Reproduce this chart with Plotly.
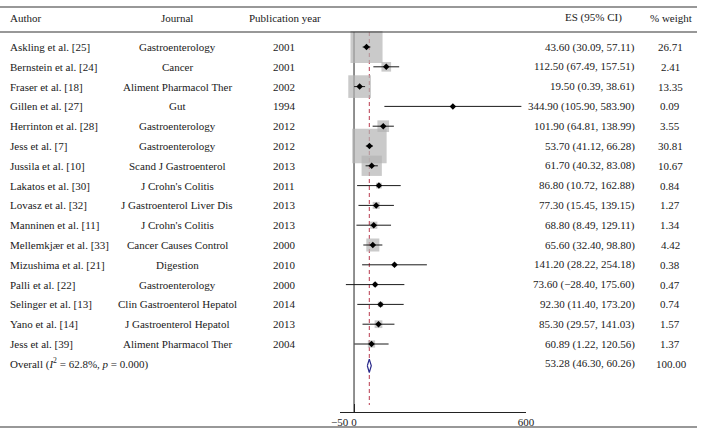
import plotly.graph_objects as go

authors = ["Askling et al. [25]", "Bernstein et al. [24]", "Fraser et al. [18]", "Gillen et al. [27]",
           "Herrinton et al. [28]", "Jess et al. [7]", "Jussila et al. [10]", "Lakatos et al. [30]",
           "Lovasz et al. [32]", "Manninen et al. [11]", "Mellemkjær et al. [33]", "Mizushima et al. [21]",
           "Palli et al. [22]", "Selinger et al. [13]", "Yano et al. [14]", "Jess et al. [39]"]
journals = ["Gastroenterology", "Cancer", "Aliment Pharmacol Ther", "Gut", "Gastroenterology",
            "Gastroenterology", "Scand J Gastroenterol", "J Crohn's Colitis", "J Gastroenterol Liver Dis",
            "J Crohn's Colitis", "Cancer Causes Control", "Digestion", "Gastroenterology",
            "Clin Gastroenterol Hepatol", "J Gastroenterol Hepatol", "Aliment Pharmacol Ther"]
years = [2001, 2001, 2002, 1994, 2012, 2012, 2013, 2011, 2013, 2013, 2000, 2010, 2000, 2014, 2013, 2004]
es = [43.60, 112.50, 19.50, 344.90, 101.90, 53.70, 61.70, 86.80, 77.30, 68.80, 65.60, 141.20, 73.60, 92.30, 85.30, 60.89]
lower = [30.09, 67.49, 0.39, 105.90, 64.81, 41.12, 40.32, 10.72, 15.45, 8.49, 32.40, 28.22, -28.40, 11.40, 29.57, 1.22]
upper = [57.11, 157.51, 38.61, 583.90, 138.99, 66.28, 83.08, 162.88, 139.15, 129.11, 98.80, 254.18, 175.60, 173.20, 141.03, 120.56]
weights = [26.71, 2.41, 13.35, 0.09, 3.55, 30.81, 10.67, 0.84, 1.27, 1.34, 4.42, 0.38, 0.47, 0.74, 1.57, 1.37]

overall_es, overall_lo, overall_hi, overall_w = 53.28, 46.30, 60.26, 100.00
overall_label = "Overall (<i>I</i><sup>2</sup> = 62.8%, <i>p</i> = 0.000)"
x_ticks = [-50, 0, 600]

W, H = 703, 435
FONT = "Liberation Serif"
n = len(authors)
rows = list(range(n))
ov_row = n

# pixel geometry
row0_px, row_step = 47, 19.8
top_px, axis_px = 32, 412
x_left_px, x_right_px = 339.7, 526.0

def row_of(px):
    return (px - row0_px) / row_step

fig = go.Figure()

# weight boxes
fig.add_trace(go.Scatter(
    x=es, y=rows, mode="markers",
    marker=dict(symbol="square", size=[6.2 * w ** 0.5 for w in weights], color="#b3b3b3", line=dict(width=0)),
    hoverinfo="skip", showlegend=False, cliponaxis=False))

# CI lines + point estimates
fig.add_trace(go.Scatter(
    x=es, y=rows, mode="markers",
    marker=dict(symbol="diamond", size=5, color="black"),
    error_x=dict(type="data", symmetric=False,
                 array=[u - e for u, e in zip(upper, es)],
                 arrayminus=[e - l for e, l in zip(es, lower)],
                 width=0, thickness=1, color="#1a1a1a"),
    hoverinfo="skip", showlegend=False, cliponaxis=False))

# overall diamond
h = 0.34
fig.add_trace(go.Scatter(
    x=[overall_lo, overall_es, overall_hi, overall_es, overall_lo],
    y=[ov_row + 0.1, ov_row + 0.1 - h, ov_row + 0.1, ov_row + 0.1 + h, ov_row + 0.1],
    mode="lines", fill="toself", fillcolor="white",
    line=dict(color="#2c2c8c", width=1.2),
    hoverinfo="skip", showlegend=False))

# null line and overall dashed line
fig.add_shape(type="line", xref="x", yref="y", x0=0, x1=0, y0=row_of(top_px), y1=row_of(axis_px),
              line=dict(color="#222222", width=1), layer="below")
fig.add_shape(type="line", xref="x", yref="y", x0=overall_es, x1=overall_es,
              y0=row_of(top_px), y1=row_of(405),
              line=dict(color="#b83a4e", width=1, dash="4px,3px"), layer="below")

# horizontal rules
for py in [7, 32, 427]:
    fig.add_shape(type="line", xref="paper", yref="paper", x0=0, x1=697 / W,
                  y0=1 - py / H, y1=1 - py / H, line=dict(color="#333333", width=1.2))

tf = dict(family=FONT, size=11, color="#1a1a1a")

def px_x(px):
    return px / W

# header
hdr_y = 1 - 18 / H
for text, px, anc in [("Author", 8, "left"), ("Journal", 177, "center"), ("Publication year", 285, "center"),
                      ("ES (95% CI)", 593, "center"), ("% weight", 671, "center")]:
    fig.add_annotation(text=text, x=px_x(px), y=hdr_y, xref="paper", yref="paper",
                       xanchor=anc, yanchor="middle", showarrow=False, font=tf)

def fmt(v):
    return f"{v:.2f}".replace("-", "\u2212")

for i in rows:
    for text, px, anc in [(authors[i], 8, "left"), (journals[i], 177, "center"), (str(years[i]), 284, "center"),
                          (f"{fmt(es[i])} ({fmt(lower[i])}, {fmt(upper[i])})", 637, "right"),
                          (f"{weights[i]:.2f}", 670, "center")]:
        fig.add_annotation(text=text, x=px_x(px), y=i, xref="paper", yref="y",
                           xanchor=anc, yanchor="middle", showarrow=False, font=tf)

for text, px, anc in [(overall_label, 8, "left"),
                      (f"{fmt(overall_es)} ({fmt(overall_lo)}, {fmt(overall_hi)})", 637, "right"),
                      (f"{overall_w:.2f}", 671, "center")]:
    fig.add_annotation(text=text, x=px_x(px), y=ov_row, xref="paper", yref="y",
                       xanchor=anc, yanchor="middle", showarrow=False, font=tf)

fig.update_layout(
    width=W, height=H, margin=dict(l=0, r=0, t=0, b=0, pad=0, autoexpand=False),
    paper_bgcolor="white", plot_bgcolor="rgba(0,0,0,0)",
    xaxis=dict(domain=[x_left_px / W, x_right_px / W], range=[-50, 600],
               tickvals=x_ticks, ticktext=["\u221250", "0", "600"],
               ticks="inside", ticklen=8, tickcolor="#222222", tickwidth=1,
               showline=True, linecolor="#222222", linewidth=1, showgrid=False, zeroline=False,
               automargin=False,
               tickfont=dict(family=FONT, size=11, color="#1a1a1a")),
    yaxis=dict(domain=[1 - axis_px / H, 1 - top_px / H],
               range=[row_of(axis_px), row_of(top_px)], automargin=False,
               visible=False, showgrid=False, zeroline=False),
)

fig.write_html("out.html", config={"responsive": False, "displayModeBar": False},
               post_script="document.body.style.margin='0px'; document.body.style.overflow='hidden';")
